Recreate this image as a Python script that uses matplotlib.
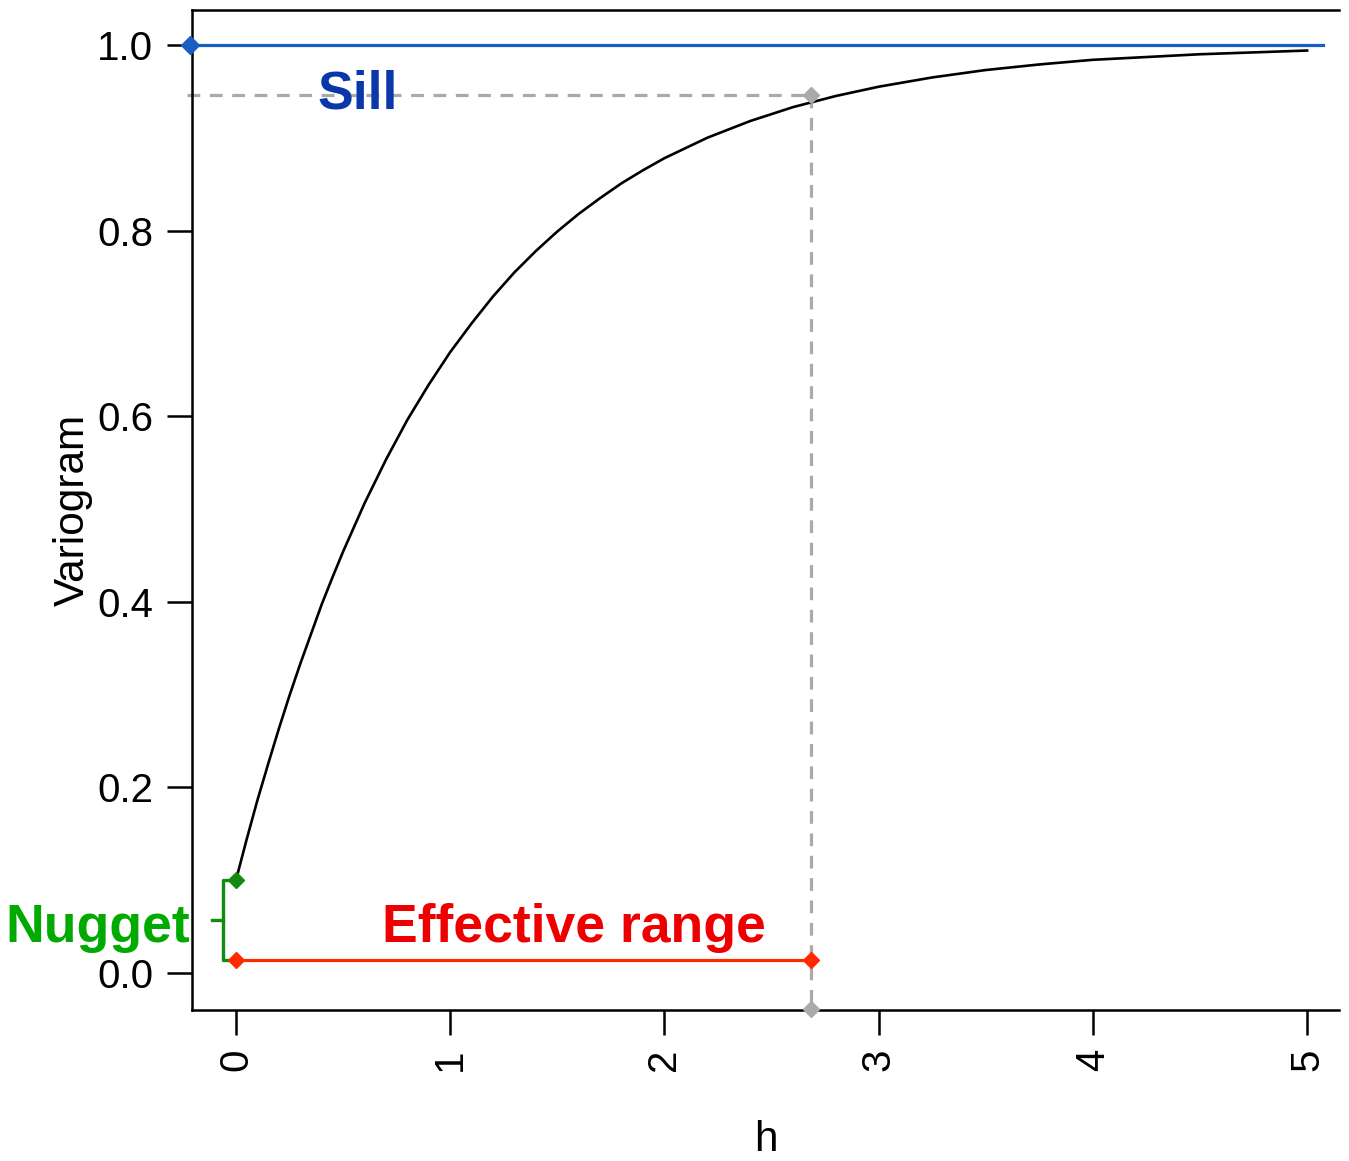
import matplotlib
matplotlib.use("Agg")
from matplotlib import pyplot as plt

plt.rcParams['font.family'] = ['Liberation Sans', 'DejaVu Sans']

# variogram curve
h = [0.0, 0.05, 0.1, 0.15, 0.2, 0.25, 0.3, 0.35, 0.4, 0.45, 0.5, 0.6, 0.7,
     0.8, 0.9, 1.0, 1.1, 1.2, 1.3, 1.4, 1.5, 1.6, 1.7, 1.8, 1.9, 2.0, 2.2,
     2.4, 2.6, 2.8, 3.0, 3.25, 3.5, 3.75, 4.0, 4.25, 4.5, 4.75, 5.0]
gamma = [0.100, 0.144, 0.186, 0.225, 0.263, 0.299, 0.333, 0.365, 0.397,
         0.426, 0.454, 0.506, 0.553, 0.596, 0.634, 0.669, 0.700, 0.729,
         0.755, 0.778, 0.799, 0.818, 0.835, 0.851, 0.865, 0.878, 0.900,
         0.918, 0.933, 0.945, 0.955, 0.965, 0.973, 0.979, 0.984, 0.987,
         0.990, 0.992, 0.994]

sill = 1.0
nugget = 0.1
eff_range = 2.684
eff_level = 0.946
range_y = 0.014

xticks = [0, 1, 2, 3, 4, 5]
yticks = [0.0, 0.2, 0.4, 0.6, 0.8, 1.0]
ylabels = ["0.0", "0.2", "0.4", "0.6", "0.8", "1.0"]

fig = plt.figure(figsize=(13.49, 11.61), dpi=100)
ax = fig.add_axes([0.1423, 0.1301, 0.8503, 0.8613])
ax.set_xlim(-0.2054, 5.149)
ax.set_ylim(-0.0399, 1.0377)

blue = '#1a5ec4'
red = '#ff2a00'
green = '#118c11'
grey = '#aaaaaa'

# sill
ax.plot([-0.215, 5.073], [sill, sill], color=blue, lw=2.3, clip_on=False, zorder=3)
ax.plot([-0.215], [sill], 'D', color=blue, ms=9, clip_on=False, zorder=4)

# effective range guides
ax.plot([-0.227, eff_range], [eff_level, eff_level], color=grey, lw=2.3,
        dashes=(4, 3), clip_on=False, zorder=2)
ax.plot([eff_range, eff_range], [eff_level, -0.0388], color=grey, lw=2.3,
        dashes=(4, 3), clip_on=False, zorder=2)
ax.plot([eff_range, eff_range], [eff_level, -0.0388], 'D', color=grey, ms=8,
        clip_on=False, zorder=4, linestyle='none')

# curve
ax.plot(h, gamma, color='black', lw=1.9, zorder=3)

# effective range line
ax.plot([0, eff_range], [range_y, range_y], color=red, lw=2.3, zorder=3)
ax.plot([0, eff_range], [range_y, range_y], 'D', color=red, ms=8, zorder=4,
        clip_on=False, linestyle='none')

# nugget bracket
bx = -0.062
ax.plot([0, bx, bx, 0], [nugget, nugget, range_y, range_y], color=green,
        lw=2.4, clip_on=False, zorder=3)
ax.plot([-0.113, bx], [0.057, 0.057], color=green, lw=2.4, clip_on=False, zorder=3)
ax.plot([0], [nugget], 'D', color=green, ms=8, clip_on=False, zorder=4)

ax.text(0.57, 0.931, "Sill", color='#0a38a8', fontsize=38.5, fontweight='bold',
        ha='center', va='baseline')
ax.text(-0.215, 0.0334, "Nugget", color='#00aa00', fontsize=38.5, fontweight='bold',
        ha='right', va='baseline', clip_on=False)
ax.text(1.578, 0.0334, "Effective range", color='#ee0000', fontsize=38.5,
        fontweight='bold', ha='center', va='baseline')

ax.set_xticks(xticks)
ax.set_xticklabels([str(t) for t in xticks], rotation=90)
ax.set_yticks(yticks)
ax.set_yticklabels(ylabels)
ax.tick_params(axis='both', direction='out', length=18, width=1.8,
               labelsize=29, pad=10)
ax.set_xlabel("h", fontsize=30.5, labelpad=35)
ax.set_ylabel("Variogram", fontsize=30.5, labelpad=3)

ax.spines['right'].set_visible(False)
for s in ['left', 'top', 'bottom']:
    ax.spines[s].set_linewidth(1.8)

fig.savefig("out.png", dpi=100)
